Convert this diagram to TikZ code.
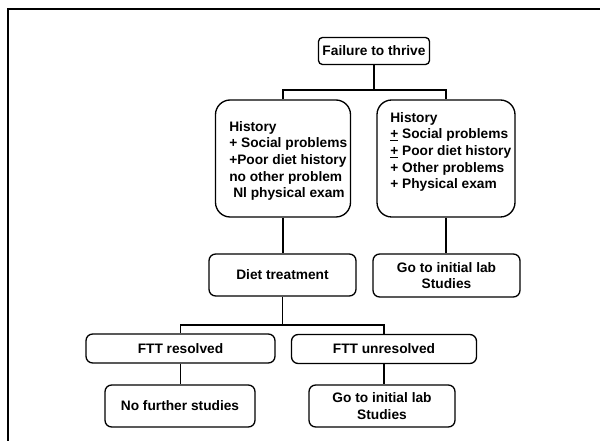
\documentclass[tikz,border=0pt]{standalone}
\usepackage{fontspec}
\setmainfont{Liberation Sans}
\begin{document}
\begin{tikzpicture}[x=0.75pt,y=-0.75pt,
  lbl/.style={font=\bfseries\fontsize{10.3}{12.45}\selectfont},
  box/.style={draw, line width=1pt, rounded corners=5pt, lbl, align=center, inner sep=0pt},
  hbox/.style={draw, line width=1pt, rounded corners=11pt, inner sep=0pt, minimum width=#1, minimum height=87.75pt},
  txt/.style={lbl, align=left, inner sep=0pt, anchor=north west},
  conn/.style={line width=1.4pt}]
\useasboundingbox (0,0) rectangle (600,441);
\draw[line width=2.2pt] (8,441) -- (8,9) -- (600,9);

\node[box, rounded corners=3pt, minimum width=83.25pt, minimum height=20.25pt] (ftt) at (374,51) {Failure to thrive};

\node[hbox=101.25pt] (hl) at (283,158.5) {};
\node[txt] (hltxt) at (229,121) {History\\+ Social problems\\+Poor diet history\\no other problem\\\hspace{3pt}Nl physical exam};

\node[hbox=103.5pt] (hr) at (446,158.5) {};
\node[txt] (hrtxt) at (390,112) {History\\\underline{+} Social problems\\\underline{+} Poor diet history\\+ Other problems\\+ Physical exam};

\node[box, minimum width=110.25pt, minimum height=31.5pt] (diet) at (282.5,275) {Diet treatment};
\node[box, minimum width=110.25pt, minimum height=32.25pt] (labr) at (446.5,275.5) {Go to initial lab\\Studies};

\node[box, minimum width=141.75pt, minimum height=21.75pt] (res) at (180.5,348.5) {FTT resolved};
\node[box, minimum width=138.75pt, minimum height=21.75pt] (unres) at (384,349) {FTT unresolved};

\node[box, minimum width=112.5pt, minimum height=31.5pt] (nofur) at (180,406) {No further studies};
\node[box, minimum width=109.5pt, minimum height=31.5pt] (lab2) at (382,406) {Go to initial lab\\Studies};

\coordinate (j1) at (374,90);
\coordinate (j2) at (283,325);

\draw[conn] (ftt.south) -- (j1);
\draw[conn] (hl.north) |- (j1) -| (hr.north);
\draw[conn] (hl.south) -- (hl.south |- diet.north);
\draw[conn] (hr.south) -- (hr.south |- labr.north);
\draw[conn] (diet.south) -- (diet.south |- j2);
\draw[conn] (res.north) |- (j2) -| (unres.north);
\draw[conn] (res.south) -- (res.south |- nofur.north);
\draw[conn] (unres.south) -- (unres.south |- lab2.north);
\end{tikzpicture}
\end{document}
